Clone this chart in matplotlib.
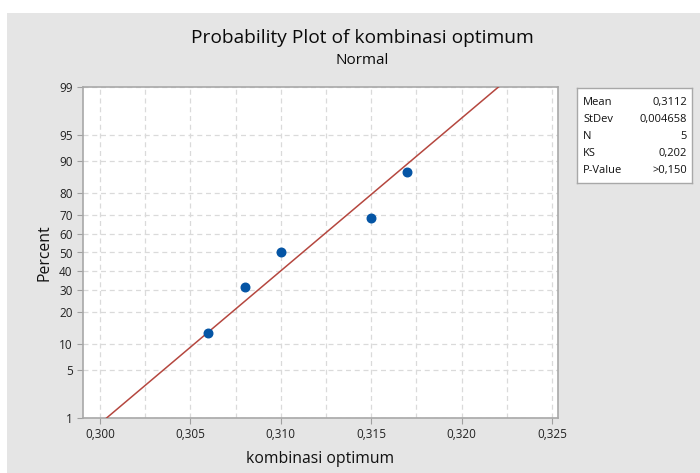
from statistics import NormalDist
import matplotlib.pyplot as plt
from matplotlib.patches import Rectangle

plt.rcParams['font.family'] = ['Open Sans', 'DejaVu Sans']

# data
x_data = [0.306, 0.308, 0.310, 0.315, 0.317]
pct_data = [12.96, 31.48, 50.0, 68.52, 87.04]
mean = 0.3112
stdev = 0.004658

x_ticks = [0.300, 0.305, 0.310, 0.315, 0.320, 0.325]
x_ticklabels = ['0,300', '0,305', '0,310', '0,315', '0,320', '0,325']
y_ticks = [1, 5, 10, 20, 30, 40, 50, 60, 70, 80, 90, 95, 99]

stats_labels = ['Mean', 'StDev', 'N', 'KS', 'P-Value']
stats_values = ['0,3112', '0,004658', '5', '0,202', '>0,150']

nd = NormalDist()
def z(p):
    return nd.inv_cdf(p / 100.0)

fig = plt.figure(figsize=(7, 4.73), dpi=100)
fig.patch.set_facecolor('white')
fig.patches.append(Rectangle((7 / 700, 0), 1, 1 - 13 / 473, transform=fig.transFigure,
                             facecolor='#e5e5e5', edgecolor='none', zorder=-10))

ax = fig.add_axes([83 / 700, 1 - 418 / 473, 475 / 700, 331 / 473])
ax.set_facecolor('white')

# fitted line
line_p = [1, 99]
line_x = [mean + z(p) * stdev for p in line_p]
ax.plot(line_x, [z(p) for p in line_p], color='#b5473f', lw=1.1, zorder=3)
ax.scatter(x_data, [z(p) for p in pct_data], s=38, color='#0555a5', zorder=4)

ax.set_xlim(0.29906, 0.32533)
ax.set_ylim(z(1), z(99))

ax.set_xticks(x_ticks)
ax.set_xticklabels(x_ticklabels)
ax.set_xticks([0.3025 + 0.005 * i for i in range(5)], minor=True)
ax.set_yticks([z(p) for p in y_ticks])
ax.set_yticklabels([str(p) for p in y_ticks])
ax.tick_params(which='major', direction='out', length=4, color='#a0a0a0',
               labelsize=8.5, labelcolor='#222222')
ax.tick_params(which='minor', length=0)
ax.grid(True, which='both', ls=(0, (4, 3)), color='#dadada', lw=0.9)
ax.set_axisbelow(True)
for s in ax.spines.values():
    s.set_color('#a8a8a8')
    s.set_linewidth(1.2)

ax.set_xlabel('kombinasi optimum', fontsize=11.3, color='#111111', labelpad=7)
ax.set_ylabel('Percent', fontsize=11.3, color='#111111', labelpad=5)

fig.text(0.517, 1 - 38 / 473, 'Probability Plot of kombinasi optimum', ha='center',
         va='center', fontsize=13.8, color='#0a0a0a')
fig.text(0.517, 1 - 60 / 473, 'Normal', ha='center', va='center', fontsize=11,
         color='#0a0a0a')

# stats box
bx = fig.add_axes([577 / 700, 1 - 183 / 473, 115 / 700, 95 / 473])
bx.set_facecolor('white')
bx.set_xticks([])
bx.set_yticks([])
for s in bx.spines.values():
    s.set_color('#a8a8a8')
    s.set_linewidth(1)
for i, (lab, val) in enumerate(zip(stats_labels, stats_values)):
    yy = 1 - (14.5 + 17 * i) / 95
    bx.text(6 / 115, yy, lab, fontsize=8, va='center', ha='left', color='#111111')
    bx.text(110 / 115, yy, val, fontsize=8, va='center', ha='right', color='#111111')

fig.savefig('out.png', dpi=100)
